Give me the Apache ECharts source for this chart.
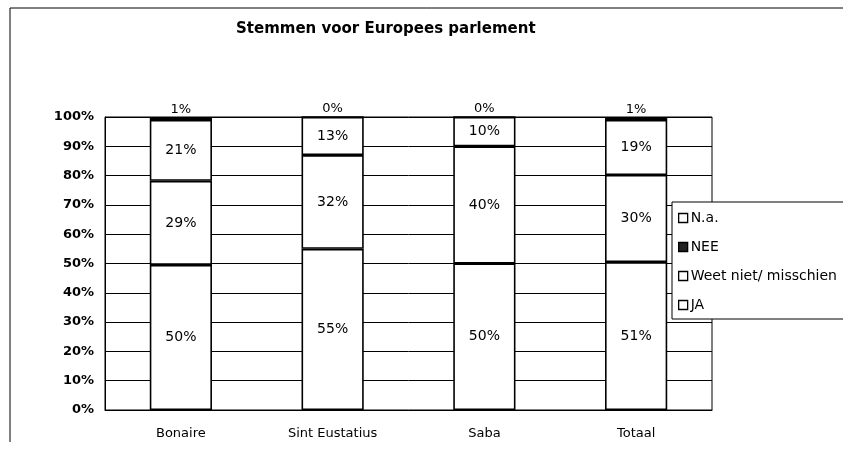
<!DOCTYPE html>
<html>
<head>
<meta charset="utf-8">
<script src="https://cdn.jsdelivr.net/npm/echarts@6/dist/echarts.min.js"></script>
<style>html,body{margin:0;padding:0;background:#fff}#c{width:843px;height:465px}</style>
</head>
<body>
<div id="c"></div>
<script>
var titleText = 'Stemmen voor Europees parlement';
var categories = ['Bonaire', 'Sint Eustatius', 'Saba', 'Totaal'];
var seriesNames = ['JA', 'Weet niet/ misschien', 'NEE', 'N.a.'];
var ja = [50, 55, 50, 51];
var weetNiet = [29, 32, 40, 30];
var nee = [21, 13, 10, 19];
var na = [1, 0, 0, 1];
var yTicks = ['0%', '10%', '20%', '30%', '40%', '50%', '60%', '70%', '80%', '90%', '100%'];

var raw = [ja, weetNiet, nee, na];
var totals = categories.map(function (c, i) {
  return ja[i] + weetNiet[i] + nee[i] + na[i];
});
var font = 'DejaVu Sans, sans-serif';

var series = raw.map(function (arr, s) {
  return {
    name: seriesNames[s],
    type: 'bar',
    stack: 'all',
    barWidth: '41%',
    data: arr.map(function (v, i) { return v / totals[i] * 100; }),
    itemStyle: { color: '#fff', borderColor: '#000', borderWidth: 1.6 },
    label: {
      show: true,
      position: s === 3 ? 'top' : 'inside',
      distance: 1,
      color: '#000',
      fontFamily: font,
      fontSize: s === 3 ? 13 : 14,
      formatter: function (p) { return arr[p.dataIndex] + '%'; }
    },
    emphasis: { disabled: true },
    animation: false
  };
});

var chart = echarts.init(document.getElementById('c'));
chart.setOption({
  animation: false,
  backgroundColor: '#fff',
  title: {
    text: titleText,
    left: 231,
    top: 17,
    textStyle: { fontFamily: font, fontSize: 15, fontWeight: 'bold', color: '#000' }
  },
  graphic: [
    { type: 'line', shape: { x1: 10, y1: 8, x2: 843, y2: 8 }, style: { stroke: '#000', lineWidth: 1 } },
    { type: 'line', shape: { x1: 10, y1: 8, x2: 10, y2: 442 }, style: { stroke: '#000', lineWidth: 1 } }
  ],
  grid: {
    left: 105, right: 131, top: 117, bottom: 55,
    show: true, borderColor: '#000', borderWidth: 1, backgroundColor: 'transparent'
  },
  legend: {
    orient: 'vertical',
    left: 672,
    top: 202,
    padding: [9, 40, 7, 6],
    itemGap: 15,
    itemWidth: 9,
    itemHeight: 9,
    icon: 'rect',
    borderColor: '#000',
    borderWidth: 1,
    backgroundColor: '#fff',
    textStyle: { fontFamily: font, fontSize: 14, color: '#000', padding: [0, 0, 0, -2] },
    itemStyle: { borderColor: '#000', borderWidth: 1.3 },
    data: [
      { name: 'N.a.' },
      { name: 'NEE', itemStyle: { color: '#222' } },
      { name: 'Weet niet/ misschien' },
      { name: 'JA' }
    ]
  },
  xAxis: {
    type: 'category',
    data: categories,
    axisLine: { lineStyle: { color: '#000' } },
    axisTick: { show: false },
    axisLabel: { color: '#000', fontFamily: font, fontSize: 13, margin: 17 }
  },
  yAxis: {
    type: 'value',
    min: 0, max: 100, interval: 10,
    axisLine: { show: true, lineStyle: { color: '#000' } },
    axisTick: { show: false },
    splitLine: { lineStyle: { color: '#000', width: 1 } },
    axisLabel: {
      color: '#000', fontFamily: font, fontSize: 13, fontWeight: 'bold', margin: 11,
      formatter: function (v) { return yTicks[Math.round(v / 10)]; }
    }
  },
  series: series
});
</script>
</body>
</html>
